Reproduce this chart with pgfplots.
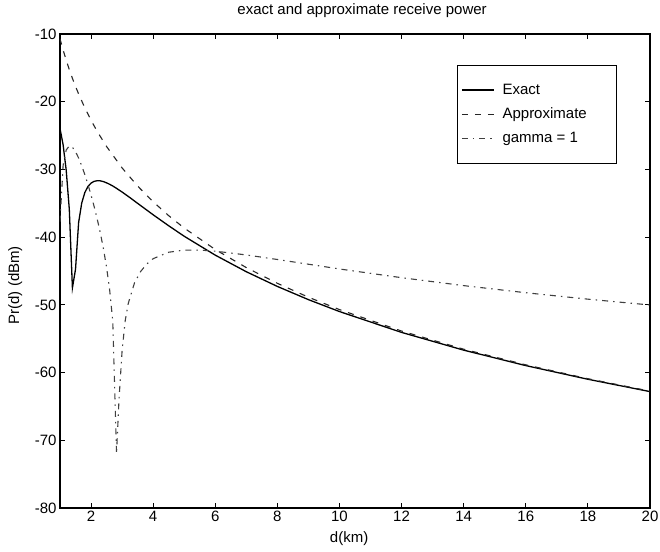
\documentclass[border=0pt]{standalone}
\usepackage{fontspec}
\setmainfont{Liberation Sans}
\usepackage{pgfplots}
\pgfplotsset{compat=1.18}

\newcommand{\lblfont}{\fontsize{15bp}{17bp}\selectfont}

\begin{document}
\begin{tikzpicture}
\begin{axis}[
  scale only axis, width=590bp, height=474bp,
  xmin=1, xmax=20, ymin=-80, ymax=-10,
  xtick={2,4,...,20}, ytick={-80,-70,...,-10},
  tick align=inside, major tick length=5bp,
  axis line style={line width=1.2bp},
  every tick/.style={line width=0.8bp, black},
  /pgf/number format/assume math mode=true,
  tick label style={font=\lblfont},
  label style={font=\lblfont},
  title={exact and approximate receive power},
  title style={at={(axis description cs:0.512,1.036)}, anchor=center, font=\lblfont},
  xlabel={d(km)},
  xlabel style={at={(axis description cs:0.49,-0.064)}, anchor=center},
  ylabel={Pr(d) (dBm)},
  ylabel style={at={(axis description cs:-0.076,0.47)}, anchor=center},
  legend style={at={(rel axis cs:0.944,0.935)}, anchor=north east,
    draw=black, line width=0.8bp, fill=white,
    inner xsep=4bp, inner ysep=17bp, row sep=8bp, font=\lblfont,
    /tikz/every odd column/.append style={column sep=6bp}},
  legend cell align=left,
  legend image code/.code={\draw[#1] (0bp,0bp) -- (32bp,0bp);},
]

% two-ray model, exact received power
\addplot[black, line width=1.3bp] coordinates {
 (1.0,-23.96) (1.1,-26.35) (1.2,-30.12) (1.3,-35.91) (1.4,-47.50)
 (1.5,-44.73) (1.6,-37.83) (1.7,-34.96) (1.8,-33.41) (1.9,-32.52)
 (2.0,-32.02) (2.1,-31.76) (2.2,-31.67) (2.3,-31.69) (2.4,-31.80)
 (2.5,-31.98) (2.6,-32.20) (2.7,-32.45) (2.8,-32.73) (3.0,-33.34)
 (3.25,-34.16) (3.5,-35.01) (4.0,-36.70) (4.5,-38.32) (5.0,-39.87)
 (6,-42.66) (7,-45.11) (8,-47.28) (9,-49.23) (10,-50.99)
 (12,-54.07) (14,-56.69) (16,-58.97) (18,-60.99) (20,-62.81)
};
\addlegendentry{\makebox[108bp][l]{Exact}}

% far-field approximation, 40 dB/decade
\addplot[black!85, line width=1.1bp, dash pattern=on 6bp off 7bp] coordinates {
 (1.0,-10.70) (1.1,-12.36) (1.2,-13.87) (1.3,-15.26) (1.4,-16.55)
 (1.5,-17.74) (1.6,-18.86) (1.8,-20.91) (2.0,-22.74) (2.2,-24.40)
 (2.5,-26.62) (3.0,-29.78) (3.5,-32.46) (4.0,-34.78) (4.5,-36.83)
 (5.0,-38.66) (6,-41.83) (7,-44.50) (8,-46.82) (9,-48.87)
 (10,-50.70) (12,-53.87) (14,-56.55) (16,-58.86) (18,-60.91) (20,-62.74)
};
\addlegendentry{\makebox[108bp][l]{Approximate}}

% reflection coefficient +1
\addplot[black!75, line width=1.1bp, dash pattern=on 6bp off 5bp on 1.5bp off 5bp] coordinates {
 (1.0,-37.72) (1.1,-29.42) (1.2,-27.13) (1.3,-26.53) (1.4,-26.73)
 (1.5,-27.38) (1.6,-28.32) (1.7,-29.47) (1.8,-30.77) (1.9,-32.22)
 (2.0,-33.79) (2.1,-35.49) (2.2,-37.35) (2.3,-39.42) (2.4,-41.74)
 (2.5,-44.46) (2.6,-47.84) (2.7,-52.45) (2.82,-72.00) (2.9,-64.00)
 (3.0,-56.75) (3.1,-52.34) (3.2,-49.76) (3.4,-46.74) (3.6,-45.05)
 (3.8,-43.95) (4.0,-43.18) (4.5,-42.23) (5.0,-41.91) (5.5,-41.91)
 (6,-42.07) (7,-42.63) (8,-43.30) (9,-44.00) (10,-44.70)
 (12,-45.99) (14,-47.16) (16,-48.21) (18,-49.16) (20,-50.02)
};
\addlegendentry{\makebox[108bp][l]{gamma = 1}}

\coordinate (bl) at (rel axis cs:0,0);
\coordinate (tr) at (rel axis cs:1,1);
\end{axis}
\pgfresetboundingbox
\path ([shift={(-60bp,-44bp)}]bl) rectangle ([shift={(10bp,34bp)}]tr);
\end{tikzpicture}
\end{document}
